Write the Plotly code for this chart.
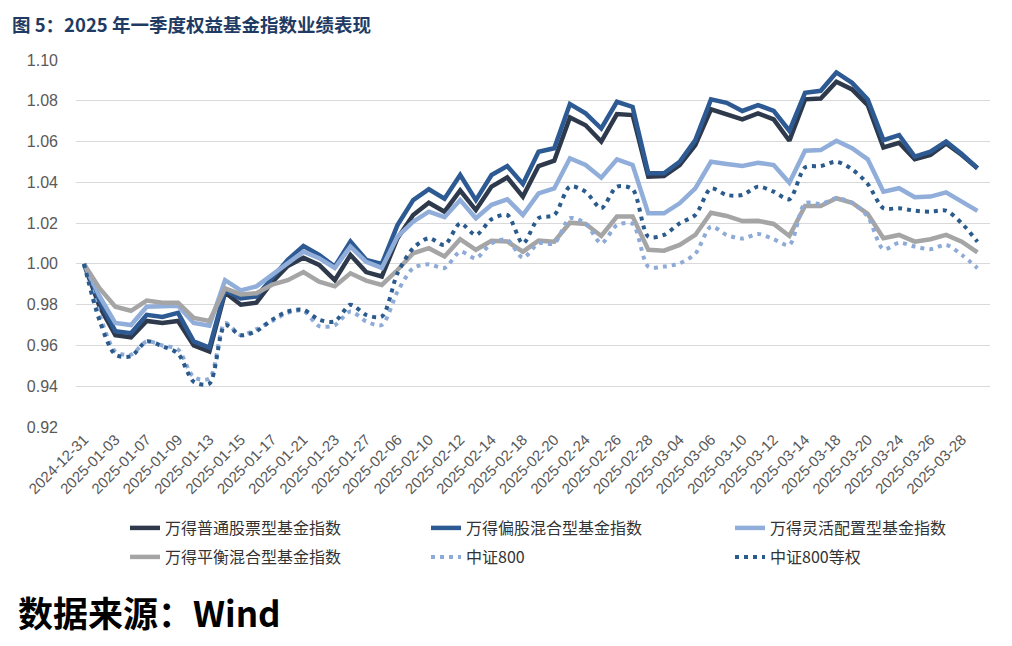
import plotly.graph_objects as go

dates = ["2024-12-31",
         "2025-01-02", "2025-01-03", "2025-01-06", "2025-01-07", "2025-01-08", "2025-01-09", "2025-01-10",
         "2025-01-13", "2025-01-14", "2025-01-15", "2025-01-16", "2025-01-17", "2025-01-20", "2025-01-21",
         "2025-01-22", "2025-01-23", "2025-01-24", "2025-01-27",
         "2025-02-05", "2025-02-06", "2025-02-07", "2025-02-10", "2025-02-11", "2025-02-12", "2025-02-13",
         "2025-02-14", "2025-02-17", "2025-02-18", "2025-02-19", "2025-02-20", "2025-02-21", "2025-02-24",
         "2025-02-25", "2025-02-26", "2025-02-27", "2025-02-28",
         "2025-03-03", "2025-03-04", "2025-03-05", "2025-03-06", "2025-03-07", "2025-03-10", "2025-03-11",
         "2025-03-12", "2025-03-13", "2025-03-14", "2025-03-17", "2025-03-18", "2025-03-19", "2025-03-20",
         "2025-03-21", "2025-03-24", "2025-03-25", "2025-03-26", "2025-03-27", "2025-03-28", "2025-03-31"]

tick_labels = dates[0:57:2]

stock_fund = [1.000, 0.979, 0.965, 0.964, 0.972, 0.971, 0.972, 0.960, 0.957, 0.986,
              0.980, 0.981, 0.991, 0.999, 1.003, 0.9995, 0.992, 1.0044, 0.996, 0.9938,
              1.0126, 1.024, 1.030, 1.0256, 1.036, 1.0264, 1.0379, 1.0424, 1.033, 1.048,
              1.0506, 1.0718, 1.068, 1.060, 1.0735, 1.073, 1.0428, 1.0431, 1.0485, 1.0583,
              1.0758, 1.0735, 1.0709, 1.0738, 1.0709, 1.0604, 1.0807, 1.0811, 1.0893, 1.0856,
              1.0779, 1.0571, 1.0594, 1.0513, 1.0534, 1.0591, 1.0534, 1.0469]

equity_hybrid = [1.000, 0.9816, 0.967, 0.966, 0.975, 0.974, 0.976, 0.962, 0.959, 0.987,
                 0.983, 0.984, 0.993, 1.002, 1.0088, 1.0044, 0.9987, 1.011, 1.002, 1.000,
                 1.019, 1.0313, 1.0366, 1.032, 1.0436, 1.0313, 1.0436, 1.048, 1.0392, 1.055,
                 1.0567, 1.0784, 1.0738, 1.0664, 1.0795, 1.077, 1.0444, 1.0444, 1.0501, 1.0607,
                 1.0807, 1.079, 1.0750, 1.0779, 1.0751, 1.0653, 1.0839, 1.0849, 1.0939, 1.0888,
                 1.0807, 1.0607, 1.0632, 1.0526, 1.055, 1.060, 1.0539, 1.0469]

flexible_alloc = [1.000, 0.984, 0.971, 0.970, 0.979, 0.9795, 0.9795, 0.971, 0.9697, 0.992,
                  0.987, 0.989, 0.9946, 1.0003, 1.006, 1.0028, 0.998, 1.0085, 1.001, 0.998,
                  1.0134, 1.0207, 1.0256, 1.0229, 1.0313, 1.0224, 1.029, 1.0317, 1.024, 1.0346,
                  1.037, 1.0518, 1.0485, 1.0423, 1.0513, 1.0485, 1.0248, 1.0248, 1.0297, 1.037,
                  1.0501, 1.049, 1.048, 1.0496, 1.0485, 1.0398, 1.0555, 1.0558, 1.0604, 1.0567,
                  1.0513, 1.0354, 1.0371, 1.0327, 1.033, 1.0351, 1.0305, 1.026]

balanced_hybrid = [1.000, 0.988, 0.979, 0.977, 0.982, 0.981, 0.981, 0.9735, 0.972, 0.988,
                   0.985, 0.9856, 0.9898, 0.992, 0.996, 0.9913, 0.989, 0.9954, 0.9918, 0.9897,
                   0.997, 1.0052, 1.0077, 1.0036, 1.0121, 1.0069, 1.0113, 1.011, 1.006, 1.0114,
                   1.0109, 1.0202, 1.0196, 1.0137, 1.0232, 1.0232, 1.0069, 1.0065, 1.0093, 1.0142,
                   1.0251, 1.0235, 1.021, 1.0211, 1.0196, 1.0137, 1.0284, 1.0284, 1.0322, 1.030,
                   1.0245, 1.0126, 1.0142, 1.0109, 1.0121, 1.0142, 1.0109, 1.0056]

csi800 = [1.000, 0.975, 0.957, 0.9555, 0.962, 0.960, 0.958, 0.9445, 0.9437, 0.971,
          0.965, 0.968, 0.972, 0.976, 0.977, 0.9695, 0.970, 0.9767, 0.9718, 0.970,
          0.9864, 0.9979, 0.9998, 0.998, 1.006, 1.0028, 1.0101, 1.0118, 1.003, 1.0101,
          1.0101, 1.0224, 1.0199, 1.0101, 1.019, 1.0196, 0.9987, 0.9987, 1.0003, 1.005,
          1.0183, 1.0142, 1.0124, 1.0147, 1.0121, 1.0093, 1.0297, 1.0294, 1.0322, 1.030,
          1.0232, 1.0072, 1.0104, 1.0085, 1.0072, 1.0093, 1.0044, 0.9979]

csi800_ew = [1.000, 0.972, 0.9555, 0.9547, 0.962, 0.9596, 0.956, 0.9422, 0.9413, 0.970,
             0.965, 0.967, 0.9726, 0.9767, 0.9775, 0.9726, 0.9718, 0.980, 0.975, 0.9742,
             0.9954, 1.0077, 1.0126, 1.0093, 1.0199, 1.0142, 1.0219, 1.024, 1.010, 1.0224,
             1.024, 1.0379, 1.0354, 1.0273, 1.0379, 1.0366, 1.0134, 1.0142, 1.0199, 1.024,
             1.037, 1.0338, 1.0338, 1.0379, 1.0354, 1.0317, 1.0473, 1.048, 1.0501, 1.0464,
             1.0392, 1.0273, 1.0273, 1.0261, 1.0256, 1.0261, 1.0199, 1.0109]

y_ticks = [0.92, 0.94, 0.96, 0.98, 1.00, 1.02, 1.04, 1.06, 1.08, 1.10]

series = [
    ("万得普通股票型基金指数", stock_fund, "#2E3A4C", "solid", 4.5, "linear"),
    ("万得偏股混合型基金指数", equity_hybrid, "#2D5A93", "solid", 4.5, "linear"),
    ("万得灵活配置型基金指数", flexible_alloc, "#91AEDA", "solid", 4.5, "linear"),
    ("万得平衡混合型基金指数", balanced_hybrid, "#A5A5A5", "solid", 4.5, "linear"),
    ("中证800", csi800, "#8EABD8", "4px,5px", 4, "spline"),
    ("中证800等权", csi800_ew, "#2A5B8C", "4px,5px", 4, "spline"),
]

CJK = "Noto Sans CJK SC, Liberation Sans, sans-serif"
LAT = "Liberation Sans, Arial, sans-serif"

PLOT_L = 76
PLOT_B = 427
PLOT_W = 914
PLOT_H = 367

# one single-item legend per slot: (column pixel x of legend box, row pixel y centre)
legend_cols = [125, 426, 730]
legend_rows = [528, 557]

fig = go.Figure()
legend_layout = {}
for i, (name, vals, color, dash, width, shape) in enumerate(series):
    key = "legend" if i == 0 else f"legend{i + 1}"
    fig.add_trace(go.Scatter(
        x=dates, y=vals, name=name, mode="lines", legend=key,
        line=dict(color=color, width=width, dash=dash, shape=shape, smoothing=0.8),
    ))
    col = i % 3
    row = i // 3
    legend_layout[key] = dict(
        orientation="h", xanchor="left", yanchor="middle",
        x=(legend_cols[col] - PLOT_L) / PLOT_W,
        y=-(legend_rows[row] - PLOT_B) / PLOT_H,
        font=dict(family=CJK, size=16, color="#333333"), bgcolor="rgba(0,0,0,0)",
    )

fig.update_layout(
    width=1012, height=646,
    margin=dict(l=76, r=22, t=60, b=219, autoexpand=False),
    paper_bgcolor="white", plot_bgcolor="white",
    showlegend=True,
    **legend_layout,
    xaxis=dict(
        type="category", categoryorder="array", categoryarray=dates,
        range=[-0.51, 57.8], automargin=False,
        tickmode="array", tickvals=tick_labels, ticktext=tick_labels,
        tickangle=-45, showgrid=False, zeroline=False, showline=False, ticks="",
        tickfont=dict(family=LAT, size=15, color="#595959"),
    ),
    yaxis=dict(
        range=[0.92, 1.10], tickmode="array", tickvals=y_ticks, automargin=False,
        ticktext=[f"{v:.2f}" for v in y_ticks],
        showgrid=True, gridcolor="#D9D9D9", gridwidth=1.3, zeroline=False, showline=False,
        ticks="", ticklabelstandoff=17,
        tickfont=dict(family=LAT, size=16, color="#595959"),
    ),
    annotations=[
        dict(text="<b>图 5：2025 年一季度权益基金指数业绩表现</b>", xref="paper", yref="paper",
             x=-66 / PLOT_W, y=1 + 36 / PLOT_H, xanchor="left", yanchor="middle", showarrow=False,
             font=dict(family=CJK, size=18.5, color="#1F3B63")),
        dict(text="<b>数据来源：Wind</b>", xref="paper", yref="paper",
             x=-60 / PLOT_W, y=-(611 - PLOT_B) / PLOT_H, xanchor="left", yanchor="middle", showarrow=False,
             font=dict(family=CJK, size=35, color="#000000")),
    ],
)

fig.write_html("out.html", config={"displayModeBar": False},
               post_script="document.body.style.margin='0';")
